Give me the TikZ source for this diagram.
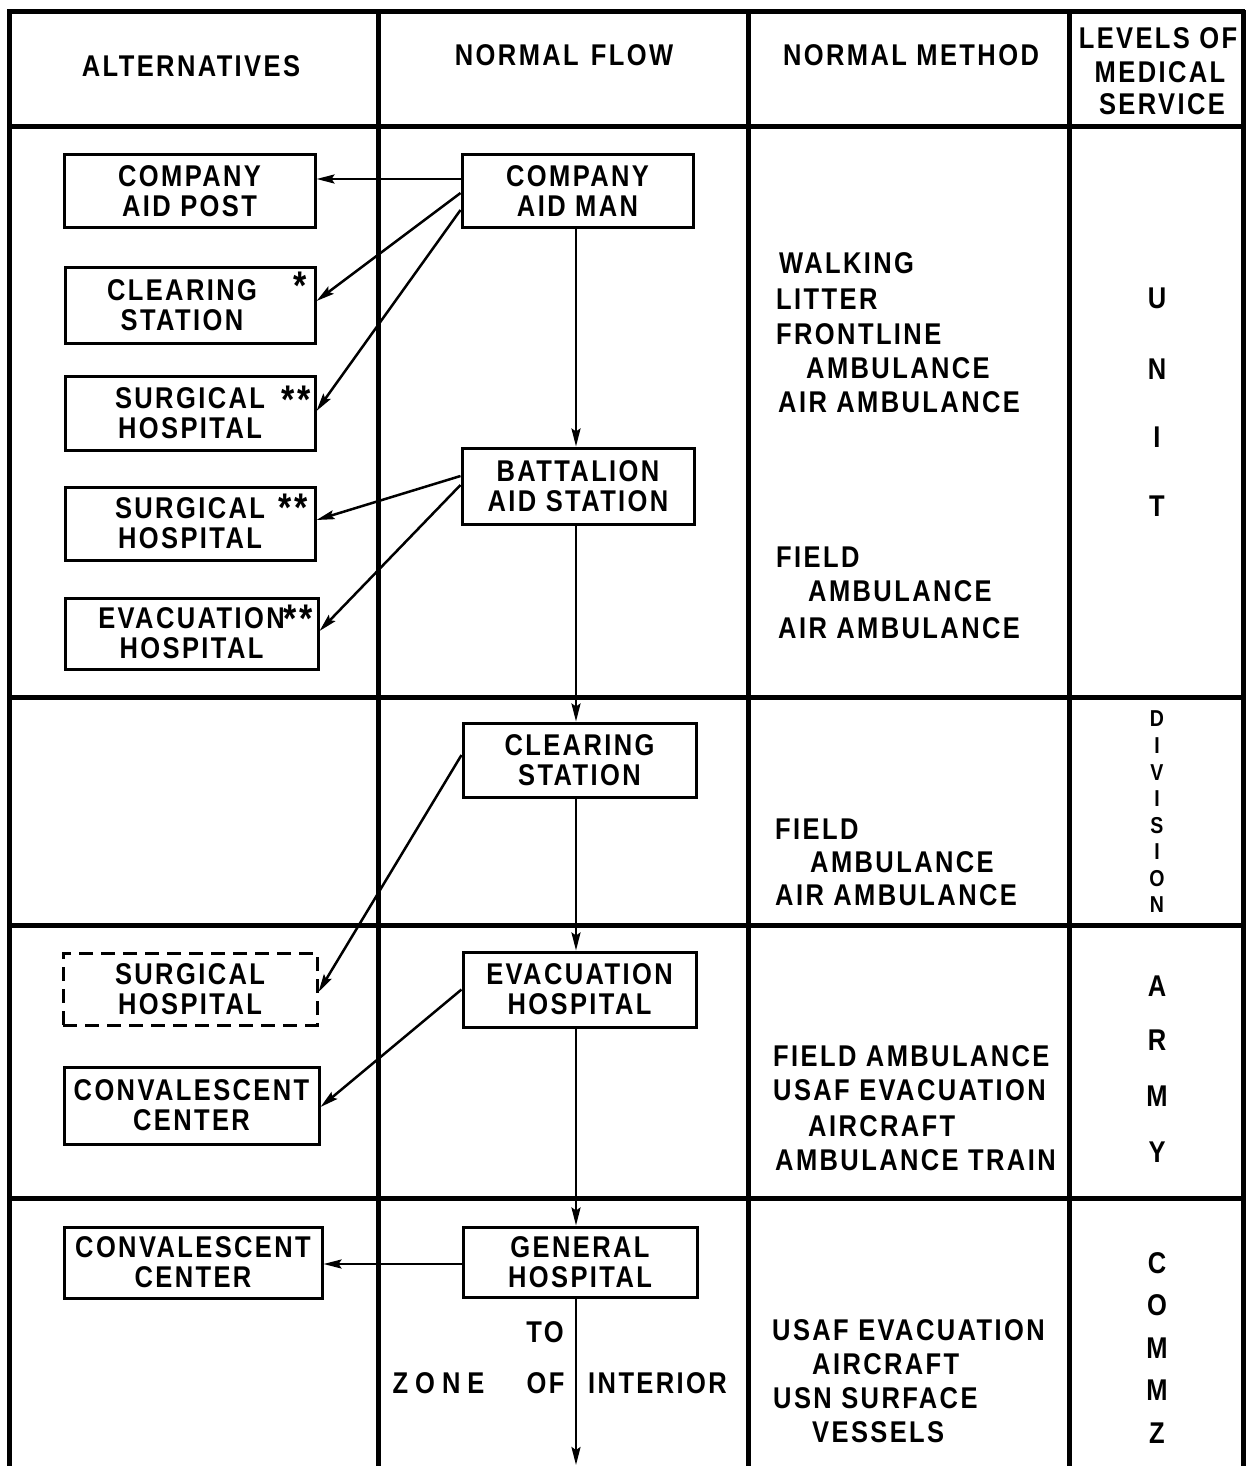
\documentclass[tikz,border=0pt]{standalone}
\usepackage{fontspec}
\newfontfamily\lbl{Liberation Sans}[FakeStretch=0.85,LetterSpace=8]
\usetikzlibrary{arrows.meta}
\begin{document}
\begin{tikzpicture}[x=1pt,y=-1pt,
  every node/.style={font=\lbl\bfseries\fontsize{30}{30}\selectfont, inner sep=0pt},
  grid/.style={line width=5pt},
  box/.style={draw, line width=3pt, align=center},
  dbox/.style={box, dash pattern=on 14pt off 8pt},
  arr/.style={line width=2.5pt, -{Stealth[length=18pt,width=9pt,inset=3pt]}},
  txt/.style={anchor=west},
  star/.style={font=\lbl\bfseries\fontsize{40}{40}\selectfont},
  div/.style={font=\lbl\bfseries\fontsize{23}{23}\selectfont},
]
\useasboundingbox (0,0) rectangle (1249,1466);
% grid
\foreach \gx in {9,378,748,1069,1243} \draw[grid] (\gx,10) -- (\gx,1466);
\foreach \gy in {12,127,697,925,1198} \draw[grid] (7,\gy) -- (1245,\gy);
% headers
\node (h1) at (191,66) {ALTERNATIVES};
\node (h2) at (564,55) {NORMAL\hspace{12pt}FLOW};
\node (h3) at (911,55) {NORMAL METHOD};
\node (h4a) at (1158,38) {LEVELS OF};
\node (h4b) at (1160,72) {MEDICAL};
\node (h4c) at (1162,104) {SERVICE};
% alternatives boxes
\node[box, minimum width=251pt, minimum height=72pt] (cap) at (189.5,191) {COMPANY\\AID POST};
\node[box, minimum width=250pt, minimum height=76pt] (csa) at (190,305) {CLEARING\hspace*{16pt}\\STATION\hspace*{16pt}};
\node[box, minimum width=250pt, minimum height=74pt] (sh1) at (190,413) {SURGICAL\\HOSPITAL};
\node[box, minimum width=250pt, minimum height=73pt] (sh2) at (190,523.5) {SURGICAL\\HOSPITAL};
\node[box, minimum width=253pt, minimum height=71pt] (eha) at (191.5,633.5) {EVACUATION\\HOSPITAL};
\node[dbox, minimum width=254pt, minimum height=72pt] (shd) at (190,989) {SURGICAL\\HOSPITAL};
\node[box, minimum width=255pt, minimum height=77pt] (cc1) at (191.5,1105.5) {CONVALESCENT\\CENTER};
\node[box, minimum width=258pt, minimum height=71pt] (cc2) at (193,1262.5) {CONVALESCENT\\CENTER};
% asterisks
\node[star] (s1) at (300,286) {*};
\node[star] (s2) at (296,400) {**};
\node[star] (s3) at (293,508) {**};
\node[star] (s4) at (298,619) {**};
% normal flow boxes
\node[box, minimum width=231pt, minimum height=72pt] (cam) at (577.5,191) {COMPANY\\AID MAN};
\node[box, minimum width=232pt, minimum height=76pt] (bas) at (578,486) {BATTALION\\AID STATION};
\node[box, minimum width=233pt, minimum height=74pt] (csm) at (579.5,760) {CLEARING\\STATION};
\node[box, minimum width=233pt, minimum height=75pt] (ehm) at (579.5,989.5) {EVACUATION\\HOSPITAL};
\node[box, minimum width=234pt, minimum height=70pt] (gh) at (580,1262) {GENERAL\\HOSPITAL};
% flow texts
\node (to) at (545,1332) {TO};
\node (zone) at (438.5,1383) {Z\hspace{7pt}O\hspace{7pt}N\hspace{7pt}E};
\node (of) at (545.5,1383) {OF};
\node[txt] (inter) at (588,1383) {INTERIOR};
% vertical flow
\coordinate (fx) at (576,0);
\coordinate (bot) at (576,1465);
\draw[arr] (cam.south -| fx) -- (bas.north -| fx);
\draw[arr] (bas.south -| fx) -- (csm.north -| fx);
\draw[arr] (csm.south -| fx) -- (ehm.north -| fx);
\draw[arr] (ehm.south -| fx) -- (gh.north -| fx);
\draw[arr] (gh.south -| fx) -- (bot);
% alternative arrows
\draw[arr] ([yshift=12pt]cam.west) -- ([yshift=12pt]cap.east);
\draw[arr] ([yshift=-2pt]cam.west) -- ([yshift=4pt]csa.east);
\draw[arr] ([yshift=-19pt]cam.west) -- ([yshift=2pt]sh1.east);
\draw[arr] ([yshift=10pt]bas.west) -- ([yshift=3.5pt]sh2.east);
\draw[arr] ([yshift=1pt]bas.west) -- ([yshift=2.5pt]eha.east);
\draw[arr] ([yshift=5pt]csm.west) -- ([yshift=-3pt]shd.east);
\draw[arr] (ehm.west) -- ([yshift=-1.5pt]cc1.east);
\draw[arr] ([yshift=-2pt]gh.west) -- ([yshift=-1.5pt]cc2.east);
% normal method
\node[txt] (m1) at (779,263) {WALKING};
\node[txt] (m2) at (776,299) {LITTER};
\node[txt] (m3) at (776,334) {FRONTLINE};
\node[txt] (m4) at (806,368) {AMBULANCE};
\node[txt] (m5) at (778,402) {AIR AMBULANCE};
\node[txt] (m6) at (776,557) {FIELD};
\node[txt] (m7) at (808,591) {AMBULANCE};
\node[txt] (m8) at (778,628) {AIR AMBULANCE};
\node[txt] (m9) at (775,829) {FIELD};
\node[txt] (m10) at (810,862) {AMBULANCE};
\node[txt] (m11) at (775,895) {AIR AMBULANCE};
\node[txt] (m12) at (773,1056) {FIELD AMBULANCE};
\node[txt] (m13) at (773,1090) {USAF EVACUATION};
\node[txt] (m14) at (808,1126) {AIRCRAFT};
\node[txt] (m15) at (775,1160) {AMBULANCE TRAIN};
\node[txt] (m16) at (772,1330) {USAF EVACUATION};
\node[txt] (m17) at (812,1364) {AIRCRAFT};
\node[txt] (m18) at (773,1398) {USN SURFACE};
\node[txt] (m19) at (812,1432) {VESSELS};
% levels
\node (u1) at (1157,298) {U};
\node (u2) at (1157,369) {N};
\node (u3) at (1157,437) {I};
\node (u4) at (1157,506) {T};
\node[div] (d1) at (1157,719) {D};
\node[div] (d2) at (1157,745.6) {I};
\node[div] (d3) at (1157,772.1) {V};
\node[div] (d4) at (1157,798.7) {I};
\node[div] (d5) at (1157,825.3) {S};
\node[div] (d6) at (1157,851.9) {I};
\node[div] (d7) at (1157,878.4) {O};
\node[div] (d8) at (1157,905) {N};
\node (a1) at (1157,986) {A};
\node (a2) at (1157,1040) {R};
\node (a3) at (1157,1096) {M};
\node (a4) at (1157,1152) {Y};
\node (c1) at (1157,1263) {C};
\node (c2) at (1157,1305) {O};
\node (c3) at (1157,1348) {M};
\node (c4) at (1157,1390) {M};
\node (c5) at (1157,1433) {Z};
\end{tikzpicture}
\end{document}
